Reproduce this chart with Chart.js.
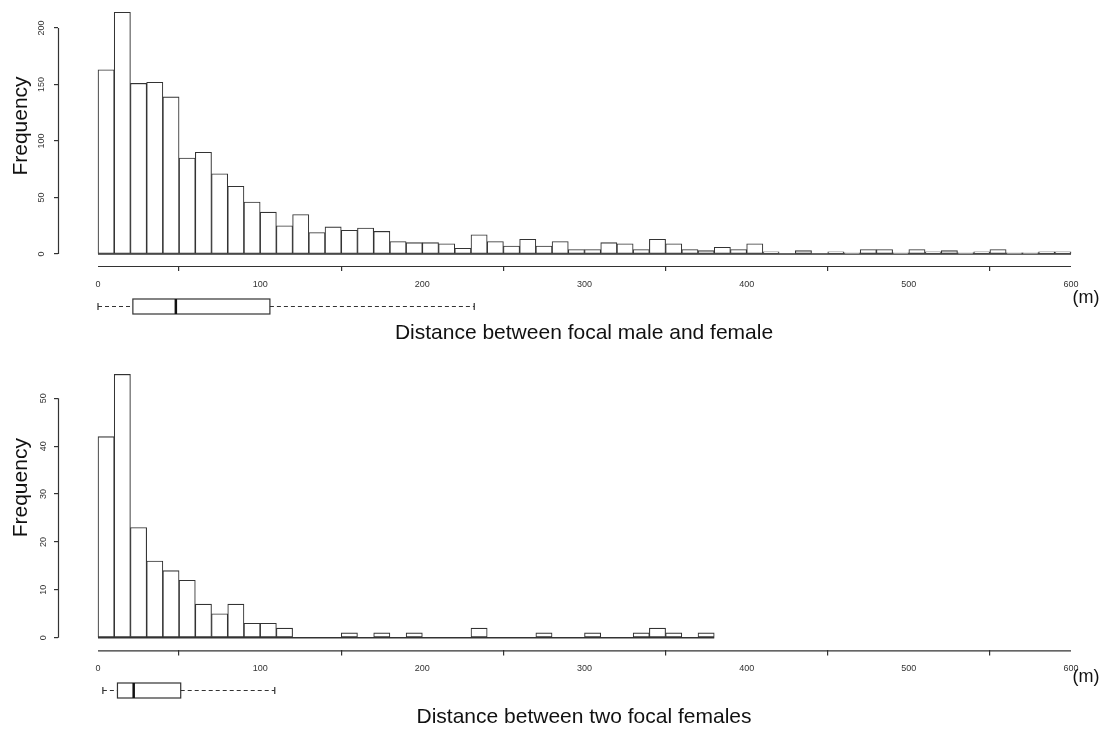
<!DOCTYPE html>
<html>
<head>
<meta charset="utf-8">
<script src="https://cdn.jsdelivr.net/npm/chart.js@4.4.1/dist/chart.umd.min.js"></script>
<style>
  body { margin: 0; width: 1104px; height: 731px; overflow: hidden; background: #fff; position: relative; }
  canvas { position: absolute; left: 0; }
</style>
</head>
<body>
<canvas id="maleFemale" width="1110" height="360" style="top:-14px"></canvas>
<canvas id="twoFemales" width="1110" height="411" style="top:320px"></canvas>
<script>
// histogram counts, 10 m bins starting at 0
const maleFemaleCounts = [163, 214, 151, 152, 139, 85, 90, 71, 60, 46,
                          37, 25, 35, 19, 24, 21, 23, 20, 11, 10,
                          10, 9, 5, 17, 11, 7, 13, 7, 11, 4,
                          4, 10, 9, 4, 13, 9, 4, 3, 6, 4,
                          9, 2, 0, 3, 0, 2, 1, 4, 4, 1,
                          4, 2, 3, 1, 2, 4, 1, 1, 2, 2];
const twoFemalesCounts = [42, 55, 23, 16, 14, 12, 7, 5, 7, 3,
                          3, 2, 0, 0, 0, 1, 0, 1, 0, 1,
                          0, 0, 0, 2, 0, 0, 0, 1, 0, 0,
                          1, 0, 0, 1, 2, 1, 0, 1];
const binWidth = 10;

// boxplots: lower whisker, Q1, median, Q3, upper whisker
const maleFemaleBox = [0, 21.5, 48, 106, 232];
const twoFemalesBox = [3, 12, 22, 51, 109];

// tick labels
const xTicks = [0, 100, 200, 300, 400, 500, 600];
const maleFemaleYTicks = [0, 50, 100, 150, 200];
const twoFemalesYTicks = [0, 10, 20, 30, 40, 50];

const lineColor = '#333';
const font = "'Liberation Sans', Arial, sans-serif";

// R style axes (line only over the tick range), boxplot and unit label
const rExtras = {
  id: 'rExtras',
  afterDraw(chart, args, opts) {
    const { ctx, chartArea } = chart;
    const x = chart.scales.x, y = chart.scales.y;
    const px = v => x.getPixelForValue(v);
    ctx.save();
    ctx.strokeStyle = lineColor;
    ctx.lineWidth = 1.2;
    ctx.beginPath();
    ctx.moveTo(px(opts.xTicks[0]), chartArea.bottom + 0.5);
    ctx.lineTo(px(opts.xTicks[opts.xTicks.length - 1]), chartArea.bottom + 0.5);
    ctx.moveTo(chartArea.left + 0.5, y.getPixelForValue(opts.yTicks[0]));
    ctx.lineTo(chartArea.left + 0.5, y.getPixelForValue(opts.yTicks[opts.yTicks.length - 1]));
    ctx.stroke();

    const [lo, q1, med, q3, hi] = opts.box;
    const cy = Math.round(chartArea.bottom + opts.boxOffset) + 0.5;
    const h = 7.5;
    ctx.setLineDash([4, 3]);
    ctx.beginPath();
    ctx.moveTo(px(lo), cy); ctx.lineTo(px(q1), cy);
    ctx.moveTo(px(q3), cy); ctx.lineTo(px(hi), cy);
    ctx.stroke();
    ctx.setLineDash([]);
    ctx.beginPath();
    ctx.moveTo(px(lo), cy - 3.5); ctx.lineTo(px(lo), cy + 3.5);
    ctx.moveTo(px(hi), cy - 3.5); ctx.lineTo(px(hi), cy + 3.5);
    ctx.stroke();
    ctx.strokeRect(px(q1), cy - h, px(q3) - px(q1), 2 * h);
    ctx.strokeStyle = '#111';
    ctx.lineWidth = 2.5;
    ctx.beginPath();
    ctx.moveTo(px(med), cy - h); ctx.lineTo(px(med), cy + h);
    ctx.stroke();

    ctx.fillStyle = '#111';
    ctx.font = '18px ' + font;
    ctx.textAlign = 'center';
    ctx.textBaseline = 'middle';
    ctx.fillText('(m)', px(opts.xTicks[opts.xTicks.length - 1]) + 15, chartArea.bottom + opts.unitOffset);
    ctx.restore();
  }
};

function noPadding(s) {
  s.paddingTop = 0; s.paddingBottom = 0; s.paddingLeft = 0; s.paddingRight = 0;
}

function drawHist(id, counts, yTicks, box, cfg) {
  const bars = counts.map((c, i) => ({ x: i * binWidth + binWidth / 2, y: c }));
  const last = counts.length * binWidth;
  return new Chart(document.getElementById(id), {
    type: 'bar',
    data: {
      datasets: [
        {
          data: bars,
          backgroundColor: '#fff',
          borderColor: lineColor,
          borderWidth: 1.1,
          borderSkipped: false,
          barPercentage: 1,
          categoryPercentage: 1
        },
        {
          type: 'line',
          data: [{ x: 0, y: 0 }, { x: last, y: 0 }],
          borderColor: lineColor,
          borderWidth: 1.5,
          pointRadius: 0
        }
      ]
    },
    plugins: [rExtras],
    options: {
      responsive: false,
      animation: false,
      layout: { padding: { top: cfg.padTop, left: 0, right: 0, bottom: 0 } },
      plugins: {
        legend: { display: false },
        tooltip: { enabled: false },
        rExtras: { xTicks: xTicks, yTicks: yTicks, box: box, boxOffset: 40, unitOffset: cfg.unitOffset }
      },
      scales: {
        x: {
          type: 'linear',
          min: -24.67,
          max: 624.05,
          bounds: 'data',
          offset: false,
          afterBuildTicks: s => { s.ticks = xTicks.map(v => ({ value: v })); },
          afterFit: s => { s.height = cfg.xHeight; noPadding(s); },
          border: { display: false },
          grid: { drawOnChartArea: false, drawTicks: true, tickLength: 5, color: lineColor, lineWidth: 1.2 },
          ticks: { padding: 8, color: '#333', font: { family: font, size: 9 }, maxRotation: 0, autoSkip: false },
          title: {
            display: true,
            text: cfg.title,
            color: '#111',
            font: { family: font, size: 21 },
            padding: { top: 0, bottom: cfg.titlePad }
          }
        },
        y: {
          min: cfg.yMin,
          max: cfg.yMax,
          bounds: 'data',
          afterBuildTicks: s => { s.ticks = yTicks.map(v => ({ value: v })); },
          afterFit: s => { s.width = 58; noPadding(s); },
          border: { display: false },
          grid: { drawOnChartArea: false, drawTicks: true, tickLength: 4, color: lineColor, lineWidth: 1.2 },
          ticks: {
            padding: 5,
            minRotation: 90,
            maxRotation: 90,
            crossAlign: 'center',
            autoSkip: false,
            color: '#333',
            font: { family: font, size: 9 }
          },
          title: {
            display: true,
            text: 'Frequency',
            color: '#111',
            font: { family: font, size: 21 },
            padding: { top: 9, bottom: 0 }
          }
        }
      }
    }
  });
}

drawHist('maleFemale', maleFemaleCounts, maleFemaleYTicks, maleFemaleBox, {
  title: 'Distance between focal male and female',
  yMin: -10.62, yMax: 237.2, padTop: 0, xHeight: 80, titlePad: 0, unitOffset: 32
});
drawHist('twoFemales', twoFemalesCounts, twoFemalesYTicks, twoFemalesBox, {
  title: 'Distance between two focal females',
  yMin: -2.652, yMax: 65.31, padTop: 5, xHeight: 80.6, titlePad: 1.4, unitOffset: 27
});
</script>
</body>
</html>
